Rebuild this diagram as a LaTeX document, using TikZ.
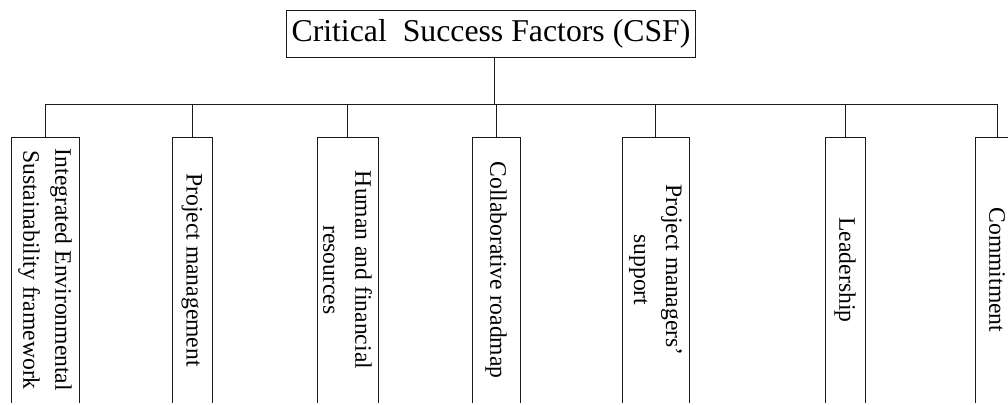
\documentclass[tikz,border=0pt]{standalone}
\usepackage{fontspec}
\setmainfont{Liberation Serif}
\usetikzlibrary{positioning}
\definecolor{cline}{HTML}{1A1A1A}
\tikzset{
  every picture/.style={line width=0.7pt},
  head/.style={draw=cline, inner sep=0pt, minimum width=102.25mm, minimum height=11.75mm, font=\fontsize{22.6}{27}\selectfont},
  factor/.style={draw=cline, rotate=-90, align=center, inner sep=0pt, minimum width=66.5mm, minimum height=#1, font=\fontsize{16.8}{22.8}\selectfont},
  factor/.default=10mm,
  link/.style={draw=cline},
}
\begin{document}
\begin{tikzpicture}[x=0.25mm, y=-0.25mm]
  \useasboundingbox (0,0) rectangle (1008,405);
  \clip (0,0) rectangle (1008,402.3);

  % ---- root
  \node[head] (csf) at (491,33.5) {Critical~~Success Factors (CSF)};
  \coordinate (bus) at (494,104);

  % ---- factors
  \node[factor=17mm]    (isf)  at (45,270)    {Integrated Environmental\\Sustainability framework};
  \node[factor]         (pm)   at (192,270)   {Project management};
  \node[factor=15.25mm] (hfr)  at (347.5,270) {Human and financial\\resources};
  \node[factor=12mm]    (cr)   at (496,270)   {Collaborative roadmap};
  \node[factor=16.75mm] (pms)  at (655.5,270) {Project managers'\\support};
  \node[factor]         (lead) at (845,270)   {Leadership};
  \node[factor=11mm]    (comm) at (997,270)   {Commitment};

  % links
  \draw[link] (csf.south -| bus) -- (bus);
  \draw[link] (isf.west |- bus) -- (comm.west |- bus);
  \foreach \u in {isf, pm, hfr, cr, pms, lead, comm} \draw[link] (\u.west) -- (\u.west |- bus);
\end{tikzpicture}
\end{document}
